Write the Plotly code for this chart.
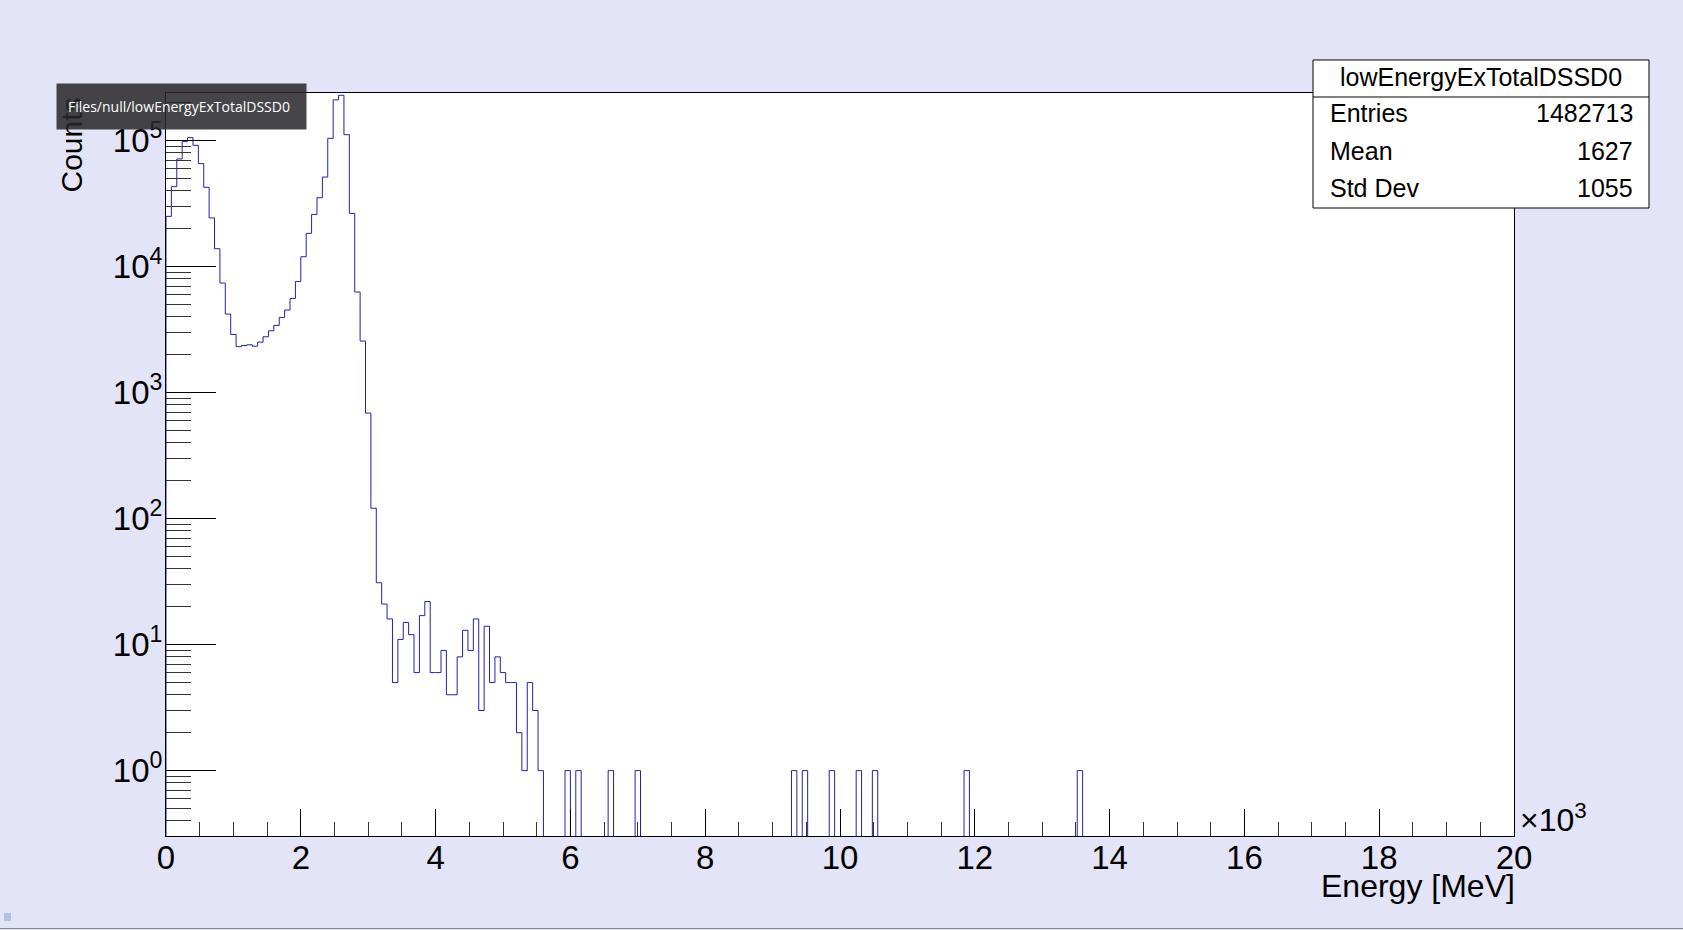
import numpy as np
import plotly.graph_objects as go

# ---------------- data ----------------
bin_width_keV = 80
n_bins = 250
# counts for bins 0..69 (0 - 5600 keV)
counts_main = [25100, 43200, 71700, 98400, 105900, 92000, 65800, 42700, 24400, 13900,
               7420, 4210, 2900, 2320, 2370, 2400, 2340, 2520, 2780, 3100,
               3420, 3960, 4530, 5600, 7640, 12000, 18400, 26000, 35300, 51500,
               104500, 211000, 229500, 111700, 26500, 6300, 2570, 689, 121, 31,
               21, 16, 5, 11, 15, 12, 6, 17, 22, 6,
               6, 9, 4, 4, 8, 13, 9, 16, 3, 14,
               5, 8, 6, 5, 5, 2, 1, 5, 3, 1]
# isolated single-count bins in the tail (low edge, keV)
tail_bins_keV = [5920, 6080, 6560, 6960, 9280, 9440, 9840, 10240, 10480, 11840, 13520]
tail_counts = [1, 1, 1, 1, 1, 1, 1, 1, 1, 1, 1]

x_tickvals = [0, 2000, 4000, 6000, 8000, 10000, 12000, 14000, 16000, 18000, 20000]
x_ticktext = ["0", "2", "4", "6", "8", "10", "12", "14", "16", "18", "20"]
y_tickvals = [1, 10, 100, 1000, 10000, 100000]
y_ticktext = ["10<sup>0</sup>", "10<sup>1</sup>", "10<sup>2</sup>",
              "10<sup>3</sup>", "10<sup>4</sup>", "10<sup>5</sup>"]

hist_name = "lowEnergyExTotalDSSD0"
stats_labels = ["Entries", "Mean", "Std Dev"]
stats_values = ["1482713", "1627", "1055"]
tooltip_text = "Files/null/lowEnergyExTotalDSSD0"

# ---------------- build histogram ----------------
counts = np.zeros(n_bins)
counts[:len(counts_main)] = counts_main
for e, c in zip(tail_bins_keV, tail_counts):
    counts[int(e // bin_width_keV)] = c
edges = np.arange(n_bins + 1) * bin_width_keV
floor = 1e-3  # empty bins drawn down below the frame (log scale)
draw = np.where(counts > 0, counts, floor)
xs = np.concatenate([[0], edges])
ys = np.concatenate([[floor], draw, [floor]])

# ---------------- layout geometry ----------------
FW, FH = 1683, 930
ML, MR, MT, MB = 166, 169, 93, 94
L, R, T, B = ML, FW - MR, MT, FH - MB
W, H = R - L, B - T


def px(x):
    return (x - L) / W


def py(y):
    return (B - y) / H


FONT = "Liberation Sans, Arial, sans-serif"

fig = go.Figure()
fig.add_trace(go.Scatter(x=xs, y=ys, mode="lines",
                         line=dict(color="#2222aa", width=1, shape="hv"),
                         hoverinfo="skip", showlegend=False))

minor_y = [k * 10.0 ** d for d in range(-1, 6) for k in range(2, 10)]
minor_x = list(range(0, 20001, 500))

fig.update_layout(
    width=FW, height=FH,
    margin=dict(l=ML, r=MR, t=MT, b=MB, pad=0),
    paper_bgcolor="rgb(228,228,248)",
    plot_bgcolor="white",
    showlegend=False,
    font=dict(family=FONT, color="black"),
    xaxis=dict(range=[0, 20000], tickmode="array", tickvals=x_tickvals, ticktext=x_ticktext,
               ticks="inside", ticklen=27, tickwidth=1, tickcolor="black",
               minor=dict(ticks="inside", ticklen=14, tickwidth=1, tickcolor="#333",
                          tickmode="array", tickvals=minor_x, showgrid=False),
               showgrid=False, zeroline=False, showline=True, linecolor="black", linewidth=1,
               mirror=True, tickfont=dict(size=33, family=FONT), ticklabelstandoff=-8),
    yaxis=dict(type="log", range=[-0.519, 5.379], tickmode="array", tickvals=y_tickvals,
               ticktext=y_ticktext, ticks="inside", ticklen=50, tickwidth=1, tickcolor="black",
               minor=dict(ticks="inside", ticklen=25, tickwidth=1, tickcolor="#333",
                          tickmode="array", tickvals=minor_y, showgrid=False),
               showgrid=False, zeroline=False, showline=True, linecolor="black", linewidth=1,
               mirror=True, tickfont=dict(size=33, family=FONT), ticklabelstandoff=-4),
)

shapes = []
annotations = []

# axis titles (ROOT style)
annotations.append(dict(text="Energy [MeV]", xref="paper", yref="paper",
                        x=px(1517), y=py(886), xanchor="right", yanchor="middle",
                        showarrow=False, font=dict(size=32, family=FONT)))
annotations.append(dict(text="×10<sup>3</sup>", xref="paper", yref="paper",
                        x=px(1518), y=py(818), xanchor="left", yanchor="middle",
                        showarrow=False, font=dict(size=32, family=FONT)))
annotations.append(dict(text="Counts", xref="paper", yref="paper", textangle=-90,
                        x=px(71), y=py(96), xanchor="center", yanchor="top",
                        showarrow=False, font=dict(size=30, family=FONT)))

# stats box
bx0, bx1, by0, by1, bsep = 1313, 1649, 60, 208, 97
shapes.append(dict(type="rect", xref="paper", yref="paper", x0=px(bx0), x1=px(bx1),
                   y0=py(by1), y1=py(by0), line=dict(color="black", width=1),
                   fillcolor="white", layer="above"))
shapes.append(dict(type="line", xref="paper", yref="paper", x0=px(bx0), x1=px(bx1),
                   y0=py(bsep), y1=py(bsep), line=dict(color="black", width=1), layer="above"))
annotations.append(dict(text=hist_name, xref="paper", yref="paper",
                        x=px((bx0 + bx1) / 2), y=py(77), xanchor="center", yanchor="middle",
                        showarrow=False, font=dict(size=25, family=FONT)))
row_y = [113, 151, 188]
for lab, val, yy in zip(stats_labels, stats_values, row_y):
    annotations.append(dict(text=lab, xref="paper", yref="paper", x=px(1328), y=py(yy),
                            xanchor="left", yanchor="middle", showarrow=False,
                            font=dict(size=25, family=FONT)))
    annotations.append(dict(text=val, xref="paper", yref="paper", x=px(1635), y=py(yy),
                            xanchor="right", yanchor="middle", showarrow=False,
                            font=dict(size=25, family=FONT)))

# hover tooltip overlay
annotations.append(dict(text=tooltip_text, xref="paper", yref="paper",
                        x=px(56), y=py(83), xanchor="left", yanchor="top",
                        width=227, height=23, borderpad=11, align="left", valign="middle",
                        bgcolor="rgba(40,40,42,0.86)", showarrow=False,
                        font=dict(size=14, family="Open Sans, sans-serif", color="white")))

# status-bar decorations
shapes.append(dict(type="line", xref="paper", yref="paper", x0=px(0), x1=px(FW),
                   y0=py(928.5), y1=py(928.5), line=dict(color="#888", width=1), layer="above"))
shapes.append(dict(type="rect", xref="paper", yref="paper", x0=px(4), x1=px(11),
                   y0=py(921), y1=py(913), line=dict(width=0), fillcolor="#b0c4de",
                   layer="above"))

fig.update_layout(shapes=shapes, annotations=annotations)
fig.write_html("out.html", config={"displayModeBar": False},
               post_script="document.body.style.margin='0';document.body.style.padding='0';"
                           "document.body.style.overflow='hidden';")
